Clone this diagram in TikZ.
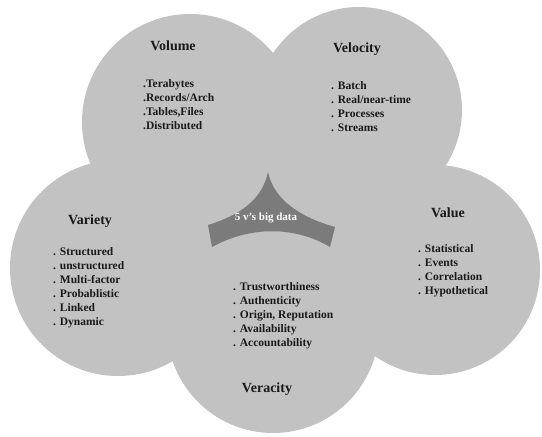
\documentclass[tikz,border=0pt]{standalone}
\usepackage{fontspec}
\setmainfont{Liberation Serif}
\definecolor{circgray}{HTML}{C2C2C2}
\definecolor{darkgray}{HTML}{7B7B7B}
\begin{document}
\begin{tikzpicture}[x=1pt,y=-1pt,
  circ/.style={fill=circgray,draw=none},
  title/.style={anchor=base,inner sep=0pt,font=\fontsize{14}{16}\selectfont\bfseries,text=black!90},
  item/.style={anchor=base west,inner sep=0pt,font=\fontsize{11.5}{14}\selectfont\bfseries,text=black!90}]
\useasboundingbox[fill=white] (0,0) rectangle (542,437);
% circles
\fill[circ] (190,122) circle[radius=108];
\fill[circ] (359,110) circle[radius=103];
\fill[circ] (118,268) circle[radius=108];
\fill[circ] (435,270) circle[radius=105];
\fill[circ] (273,327) circle[radius=106];
% fill the centre so that no gap is left between the circles
\fill[circ] (210,160) rectangle (360,260);
% center shape
\fill[darkgray] (268,172) .. controls (262,200) and (240,215) .. (208,225) -- (212,247)
  .. controls (250,226) and (295,226) .. (330,247) -- (335,227)
  .. controls (300,217) and (274,200) .. (268,172) -- cycle;
\node[anchor=base,inner sep=0pt,font=\fontsize{11}{13}\selectfont\bfseries,text=white] (core) at (266,220) {5 v's big data};
% titles
\node[title] (tvol) at (173,50) {Volume};
\node[title] (tvel) at (357,52) {Velocity};
\node[title] (tvar) at (90,224) {Variety};
\node[title] (tval) at (448,217) {Value};
\node[title] (tver) at (267,392) {Veracity};
% items
\foreach \t [count=\i] in {.Terabytes,.Records/Arch,{.Tables,Files},.Distributed}
  \node[item] (vol\i) at (143,{87+14*(\i-1)}) {\t};
\foreach \t [count=\i] in {. Batch,. Real/near-time,. Processes,. Streams}
  \node[item] (vel\i) at (331,{89+14*(\i-1)}) {\t};
\foreach \t [count=\i] in {. Structured,. unstructured,. Multi-factor,. Probablistic,. Linked,. Dynamic}
  \node[item] (var\i) at (53,{255+14*(\i-1)}) {\t};
\foreach \t [count=\i] in {. Statistical,. Events,. Correlation,. Hypothetical}
  \node[item] (val\i) at (418,{252+14*(\i-1)}) {\t};
\foreach \t [count=\i] in {. Trustworthiness,. Authenticity,{. Origin, Reputation},. Availability,. Accountability}
  \node[item] (ver\i) at (233,{290+14*(\i-1)}) {\t};
\end{tikzpicture}
\end{document}
